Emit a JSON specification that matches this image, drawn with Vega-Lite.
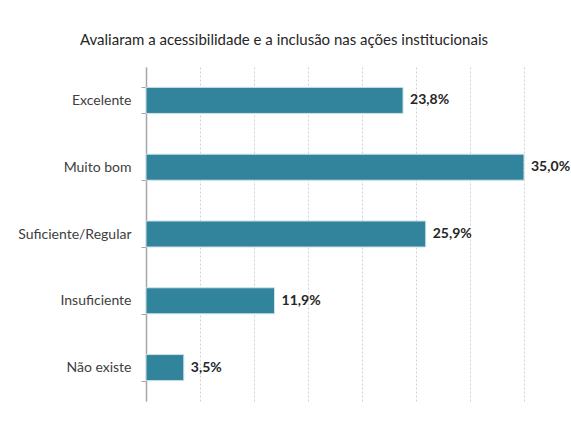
{
  "$schema": "https://vega.github.io/schema/vega-lite/v6.json",
  "width": 378,
  "height": 334,
  "autosize": "none",
  "padding": {"left": 146, "top": 67, "right": 47, "bottom": 27},
  "config": {
    "locale": {"number": {"decimal": ",", "thousands": ".", "grouping": [3], "currency": ["", " €"]}},
    "view": {"stroke": null},
    "font": "Lato"
  },
  "title": {
    "text": "Avaliaram a acessibilidade e a inclusão nas ações institucionais",
    "fontSize": 15,
    "fontWeight": "normal",
    "color": "#262626",
    "anchor": "middle",
    "dx": -51,
    "offset": 12
  },
  "data": {
    "values": [
      {"categoria": "Excelente", "valor": 0.238},
      {"categoria": "Muito bom", "valor": 0.35},
      {"categoria": "Suficiente/Regular", "valor": 0.259},
      {"categoria": "Insuficiente", "valor": 0.119},
      {"categoria": "Não existe", "valor": 0.035}
    ]
  },
  "encoding": {
    "y": {
      "field": "categoria",
      "type": "nominal",
      "sort": null,
      "scale": {"paddingInner": 0.61, "paddingOuter": 0.305},
      "axis": {
        "title": null,
        "tickBand": "extent",
        "tickSize": 5,
        "tickColor": "#A6A6A6",
        "domainColor": "#A6A6A6",
        "domainWidth": 1.5,
        "labelPadding": 10,
        "labelFontSize": 14,
        "labelColor": "#404040",
        "labelFont": "Lato"
      }
    },
    "x": {
      "field": "valor",
      "type": "quantitative",
      "scale": {"domain": [0, 0.35], "nice": false},
      "axis": {
        "values": [0, 0.05, 0.1, 0.15, 0.2, 0.25, 0.3, 0.35],
        "labels": false,
        "ticks": false,
        "domain": false,
        "title": null,
        "grid": true,
        "gridDash": [2, 2],
        "gridColor": "#D0D0D0"
      }
    }
  },
  "layer": [
    {"mark": {"type": "bar", "color": "#31849B", "stroke": "#CFE3EA", "strokeWidth": 1}},
    {
      "mark": {"type": "text", "align": "left", "baseline": "middle", "dx": 7, "fontWeight": "bold", "fontSize": 14, "color": "#262626"},
      "encoding": {"text": {"field": "valor", "type": "quantitative", "format": ".1%"}}
    }
  ]
}
